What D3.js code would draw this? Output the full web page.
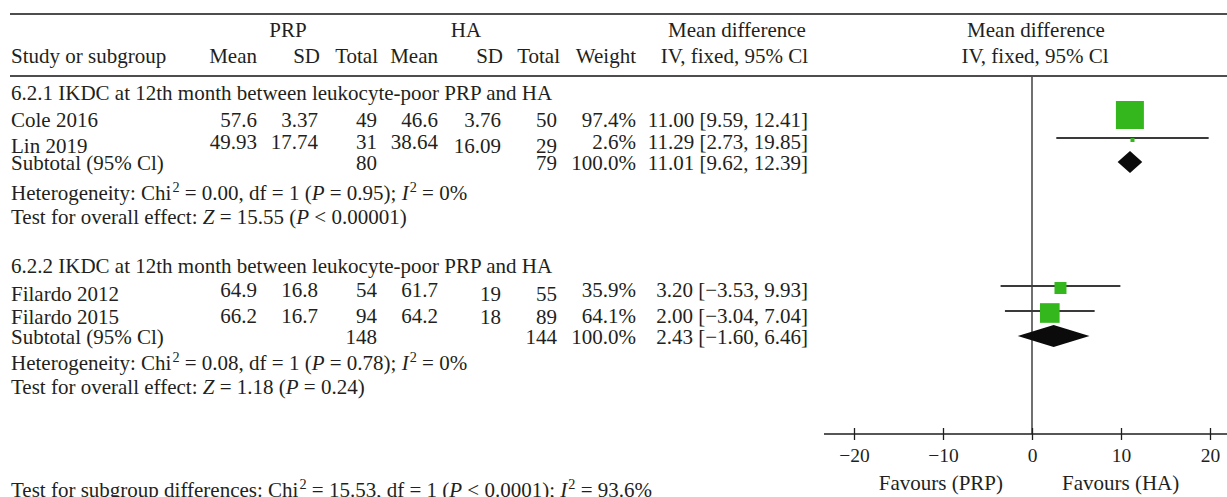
<!DOCTYPE html>
<html>
<head>
<meta charset="utf-8">
<script src="https://cdn.jsdelivr.net/npm/d3@7/dist/d3.min.js"></script>
<style>
  html, body { margin: 0; padding: 0; background: #fff; }
  svg { display: block; }
</style>
</head>
<body>
<svg id="chart" width="1227" height="497"></svg>
<script>
// ---- study-level data ----
const studies   = ["Cole 2016", "Lin 2019", "Filardo 2012", "Filardo 2015"];
const subgroupOf = [0, 0, 1, 1];
const prpMean   = [57.6, 49.93, 64.9, 66.2];
const prpSD     = [3.37, 17.74, 16.8, 16.7];
const prpTotal  = [49, 31, 54, 94];
const haMean    = [46.6, 38.64, 61.7, 64.2];
const haSD      = [3.76, 16.09, 19, 18];
const haTotal   = [50, 29, 55, 89];
const weight    = [97.4, 2.6, 35.9, 64.1];
const md        = [11.00, 11.29, 3.20, 2.00];
const ciLow     = [9.59, 2.73, -3.53, -3.04];
const ciHigh    = [12.41, 19.85, 9.93, 7.04];

// ---- subgroup-level data ----
const subgroupTitles = [
  "6.2.1 IKDC at 12th month between leukocyte-poor PRP and HA",
  "6.2.2 IKDC at 12th month between leukocyte-poor PRP and HA"
];
const subPrpTotal = [80, 148];
const subHaTotal  = [79, 144];
const subWeight   = [100, 100];
const subMd       = [11.01, 2.43];
const subLow      = [9.62, -1.60];
const subHigh     = [12.39, 6.46];
const hetChi2     = ["0.00", "0.08"];
const hetDf       = [1, 1];
const hetP        = ["0.95", "0.78"];
const hetI2       = ["0%", "0%"];
const effectZ     = ["15.55", "1.18"];
const effectP     = ["< 0.00001", "= 0.24"];

// ---- test for subgroup differences ----
const diffChi2 = "15.53", diffDf = 1, diffP = "< 0.0001", diffI2 = "93.6%";

// ---- axis ----
const axisTicks = [-20, -10, 0, 10, 20];
const favoursLabels = ["Favours (PRP)", "Favours (HA)"];

// ================= layout =================
const W = 1227, H = 497;
const FONT = "'Liberation Serif', 'Times New Roman', serif";
const TEXT = "#231f20";
const GREEN = "#34b61d";
const FS = 21;

// row baselines for the table text (name, numbers) and centre line for the plot
const layout = {
  group:   [{ title: 100, rows: [{ name: 127, num: 127, plot: 115 }, { name: 153, num: 149, plot: 138 }],
              subtotal: 170, subPlot: 162, het: 200, test: 224 },
            { title: 273, rows: [{ name: 301, num: 297, plot: 286 }, { name: 324, num: 323, plot: 311 }],
              subtotal: 344, subPlot: 336, het: 370, test: 394 }]
};
const cols = { prpMean: 257, prpSD: 318, prpTotal: 377, haMean: 438, haSD: 501, haTotal: 557, weight: 636, ci: 808 };
const leftX = 11;
const axisY = 434;
const headerTopY = 14, headerBottomY = 76;

const svg = d3.select("#chart")
  .attr("font-family", FONT)
  .attr("fill", TEXT);

// mini markup: ^2 -> superscript, _X_ -> italic
function richText(sel, x, y, str, opts = {}) {
  const size = opts.size || FS;
  const t = sel.append("text")
    .attr("x", x).attr("y", y)
    .attr("font-size", size)
    .attr("text-anchor", opts.anchor || "start")
    .attr("fill", TEXT);
  const re = /(\^\d|_[^_]+_)/g;
  let last = 0, m, pendingDy = 0;
  const push = (txt, style) => {
    if (!txt) return;
    const ts = t.append("tspan").text(txt);
    if (style === "sup") {
      ts.attr("dy", -8).attr("dx", 1).attr("font-size", size * 0.68);
      pendingDy = 8;
    } else {
      if (pendingDy) { ts.attr("dy", pendingDy); pendingDy = 0; }
      if (style === "it") ts.attr("font-style", "italic");
    }
  };
  while ((m = re.exec(str)) !== null) {
    push(str.slice(last, m.index));
    const tok = m[0];
    if (tok[0] === "^") push(tok.slice(1), "sup");
    else push(tok.slice(1, -1), "it");
    last = m.index + tok.length;
  }
  push(str.slice(last));
  return t;
}

const f2 = d3.format(".2f");
const f1 = d3.format(".1f");
const ciText = (m, lo, hi) => `${f2(m)} [${f2(lo)}, ${f2(hi)}]`;

// ---- horizontal rules ----
svg.append("line").attr("x1", 10).attr("x2", W).attr("y1", headerTopY).attr("y2", headerTopY)
  .attr("stroke", "#4d4d4d").attr("stroke-width", 2);
svg.append("line").attr("x1", 10).attr("x2", W).attr("y1", headerBottomY).attr("y2", headerBottomY)
  .attr("stroke", "#4d4d4d").attr("stroke-width", 2);

// ---- header ----
const hdr = svg.append("g");
richText(hdr, 288, 37, "PRP", { anchor: "middle" });
richText(hdr, 466, 37, "HA", { anchor: "middle" });
richText(hdr, 737, 37, "Mean difference", { anchor: "middle" });
richText(hdr, 1036, 37, "Mean difference", { anchor: "middle" });
richText(hdr, leftX, 63, "Study or subgroup");
[["Mean", cols.prpMean], ["SD", 320], ["Total", 378], ["Mean", cols.haMean], ["SD", 503], ["Total", 560],
 ["Weight", cols.weight], ["IV, fixed, 95% Cl", cols.ci]]
  .forEach(([lab, x]) => richText(hdr, x, 63, lab, { anchor: "end" }));
richText(hdr, 1035, 63, "IV, fixed, 95% Cl", { anchor: "middle" });

// ---- scales ----
const x = d3.scaleLinear().domain([-20, 20]).range([854, 1210]);
const axisPad = 30;
const boxSize = w => Math.max(4, 28 * Math.pow(w / d3.max(weight), 0.85));

// zero line
svg.append("line")
  .attr("x1", x(0)).attr("x2", x(0)).attr("y1", headerBottomY).attr("y2", axisY)
  .attr("stroke", "#4d4d4d").attr("stroke-width", 1.6);

// ---- table body and plot ----
const body = svg.append("g");
const plot = svg.append("g");

subgroupTitles.forEach((title, g) => {
  const L = layout.group[g];
  richText(body, leftX, L.title, title);
  const idx = studies.map((s, i) => i).filter(i => subgroupOf[i] === g);
  idx.forEach((i, k) => {
    const R = L.rows[k];
    richText(body, leftX, R.name, studies[i]);
    richText(body, cols.prpMean, R.num, String(prpMean[i]), { anchor: "end" });
    richText(body, cols.prpSD, R.num, String(prpSD[i]), { anchor: "end" });
    richText(body, cols.prpTotal, R.num, String(prpTotal[i]), { anchor: "end" });
    richText(body, cols.haMean, R.num, String(haMean[i]), { anchor: "end" });
    richText(body, cols.haSD, R.name, String(haSD[i]), { anchor: "end" });
    richText(body, cols.haTotal, R.name, String(haTotal[i]), { anchor: "end" });
    richText(body, cols.weight, R.num, f1(weight[i]) + "%", { anchor: "end" });
    richText(body, cols.ci, R.num, ciText(md[i], ciLow[i], ciHigh[i]), { anchor: "end" });

    // confidence interval and weighted box
    plot.append("line")
      .attr("x1", x(ciLow[i])).attr("x2", x(ciHigh[i]))
      .attr("y1", R.plot).attr("y2", R.plot)
      .attr("stroke", "#3a3a3a").attr("stroke-width", 1.8);
    const s = boxSize(weight[i]);
    const cy = R.plot + (s > 20 ? 0 : 2);
    plot.append("rect")
      .attr("x", x(md[i]) - s / 2).attr("y", cy - s / 2)
      .attr("width", s).attr("height", s)
      .attr("fill", GREEN);
  });

  // subtotal row
  richText(body, leftX, L.subtotal, "Subtotal (95% Cl)");
  richText(body, cols.prpTotal, L.subtotal, String(subPrpTotal[g]), { anchor: "end" });
  richText(body, cols.haTotal, L.subtotal, String(subHaTotal[g]), { anchor: "end" });
  richText(body, cols.weight, L.subtotal, f1(subWeight[g]) + "%", { anchor: "end" });
  richText(body, cols.ci, L.subtotal, ciText(subMd[g], subLow[g], subHigh[g]), { anchor: "end" });

  const dh = 11;
  plot.append("path")
    .attr("d", `M${x(subLow[g])},${L.subPlot} L${x(subMd[g])},${L.subPlot - dh} L${x(subHigh[g])},${L.subPlot} L${x(subMd[g])},${L.subPlot + dh} Z`)
    .attr("fill", "#0b0b0b");

  richText(body, leftX, L.het,
    `Heterogeneity: Chi^2 = ${hetChi2[g]}, df = ${hetDf[g]} (_P_ = ${hetP[g]}); _I_^2 = ${hetI2[g]}`);
  richText(body, leftX, L.test,
    `Test for overall effect: _Z_ = ${effectZ[g]} (_P_ ${effectP[g]})`);
});

// ---- x axis ----
const axisG = svg.append("g").attr("transform", `translate(0,${axisY})`);
axisG.append("line")
  .attr("x1", x.range()[0] - axisPad).attr("x2", x.range()[1] + axisPad)
  .attr("stroke", "#1e1e1e").attr("stroke-width", 1.5);
const axis = d3.axisBottom(x).tickValues(axisTicks).tickSize(6).tickSizeOuter(0).tickPadding(8);
axisG.append("g").call(axis)
  .call(g => g.select(".domain").remove())
  .call(g => g.selectAll(".tick line").attr("y1", -6).attr("y2", 6).attr("stroke", "#1e1e1e").attr("stroke-width", 1.3))
  .call(g => g.selectAll(".tick text")
    .attr("font-family", FONT).attr("font-size", 19.5).attr("fill", TEXT).attr("dy", "0.71em"));

richText(svg, x(0) - 29, 490, favoursLabels[0], { anchor: "end" });
richText(svg, x(0) + 30, 490, favoursLabels[1], { anchor: "start" });

// ---- test for subgroup differences ----
richText(svg, leftX, 497,
  `Test for subgroup differences: Chi^2 = ${diffChi2}, df = ${diffDf} (_P_ ${diffP}); _I_^2 = ${diffI2}`);
</script>
</body>
</html>
